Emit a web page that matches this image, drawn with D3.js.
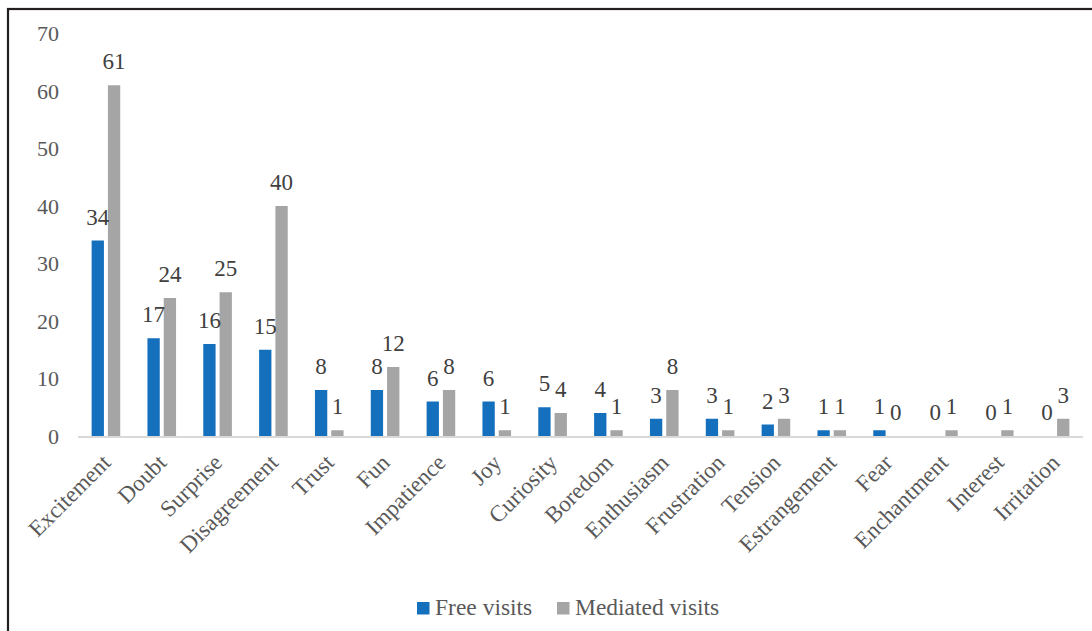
<!DOCTYPE html>
<html><head><meta charset="utf-8">
<script src="https://cdn.jsdelivr.net/npm/d3@7"></script>
<style>body{margin:0;background:#fff}svg{display:block}</style>
</head><body>
<svg id="c" width="1092" height="631"></svg>
<script>
const categories = ["Excitement","Doubt","Surprise","Disagreement","Trust","Fun","Impatience","Joy","Curiosity","Boredom","Enthusiasm","Frustration","Tension","Estrangement","Fear","Enchantment","Interest","Irritation"];
const freeVisits = [34,17,16,15,8,8,6,6,5,4,3,3,2,1,1,0,0,0];
const mediatedVisits = [61,24,25,40,1,12,8,1,4,1,8,1,3,1,0,1,1,3];
const seriesNames = ["Free visits","Mediated visits"];
const yTicks = [0,10,20,30,40,50,60,70];
const colors = ["#1470bd","#a5a5a5"];

const svg = d3.select("#c");
const font = "'Liberation Serif','Times New Roman',serif";
svg.append("rect").attr("x",8).attr("y",9).attr("width",1100).attr("height",640)
  .attr("fill","none").attr("stroke","#231f20").attr("stroke-width",2.2);

const x0 = d3.scaleBand().domain(categories).range([78,1083]);
const x1 = d3.scaleBand().domain(seriesNames).range([0,x0.bandwidth()]).paddingInner(0.245).paddingOuter(0.835);
const y = d3.scaleLinear().domain([0,70]).range([436,33.5]);

const yAxis = svg.append("g").attr("transform","translate(59,0)")
  .call(d3.axisLeft(y).tickValues(yTicks).tickSize(0).tickPadding(0));
yAxis.select(".domain").remove();
yAxis.selectAll("text").attr("font-family",font).attr("font-size",22).attr("fill","#595959").attr("dy","0.33em");

const data = categories.map((c,i)=>({c, vals:[freeVisits[i], mediatedVisits[i]]}));
const g = svg.append("g").selectAll("g").data(data).join("g")
  .attr("transform",d=>`translate(${x0(d.c)},0)`);
g.selectAll("rect").data(d=>d.vals.map((v,j)=>({v,s:seriesNames[j],j}))).join("rect")
  .attr("x",d=>x1(d.s)).attr("width",x1.bandwidth())
  .attr("y",d=>y(d.v)).attr("height",d=>y(0)-y(d.v))
  .attr("fill",d=>colors[d.j]);
g.selectAll("text").data(d=>d.vals.map((v,j)=>({v,s:seriesNames[j],j}))).join("text")
  .attr("x",d=>x1(d.s)+x1.bandwidth()/2).attr("y",d=>y(d.v)-16)
  .attr("text-anchor","middle").attr("font-family",font).attr("font-size",23).attr("fill","#404040")
  .text(d=>d.v);

svg.append("line").attr("x1",78).attr("x2",1083).attr("y1",y(0)+1).attr("y2",y(0)+1)
  .attr("stroke","#d9d9d9").attr("stroke-width",2);

const xAxis = svg.append("g").attr("transform",`translate(0,${y(0)})`)
  .call(d3.axisBottom(x0).tickSize(0).tickPadding(0));
xAxis.select(".domain").remove();
xAxis.selectAll("text").attr("font-family",font).attr("font-size",23).attr("fill","#595959")
  .attr("text-anchor","end").attr("dy",0).attr("transform","translate(6,28) rotate(-45)");

const leg = svg.append("g");
const items = [{n:seriesNames[0],x:417,c:colors[0]},{n:seriesNames[1],x:557,c:colors[1]}];
items.forEach(it=>{
  leg.append("rect").attr("x",it.x).attr("y",602).attr("width",12.5).attr("height",12.5).attr("fill",it.c);
  leg.append("text").attr("x",it.x+18).attr("y",615).attr("font-family",font).attr("font-size",23.5)
    .attr("fill","#595959").text(it.n);
});
</script>
</body></html>
